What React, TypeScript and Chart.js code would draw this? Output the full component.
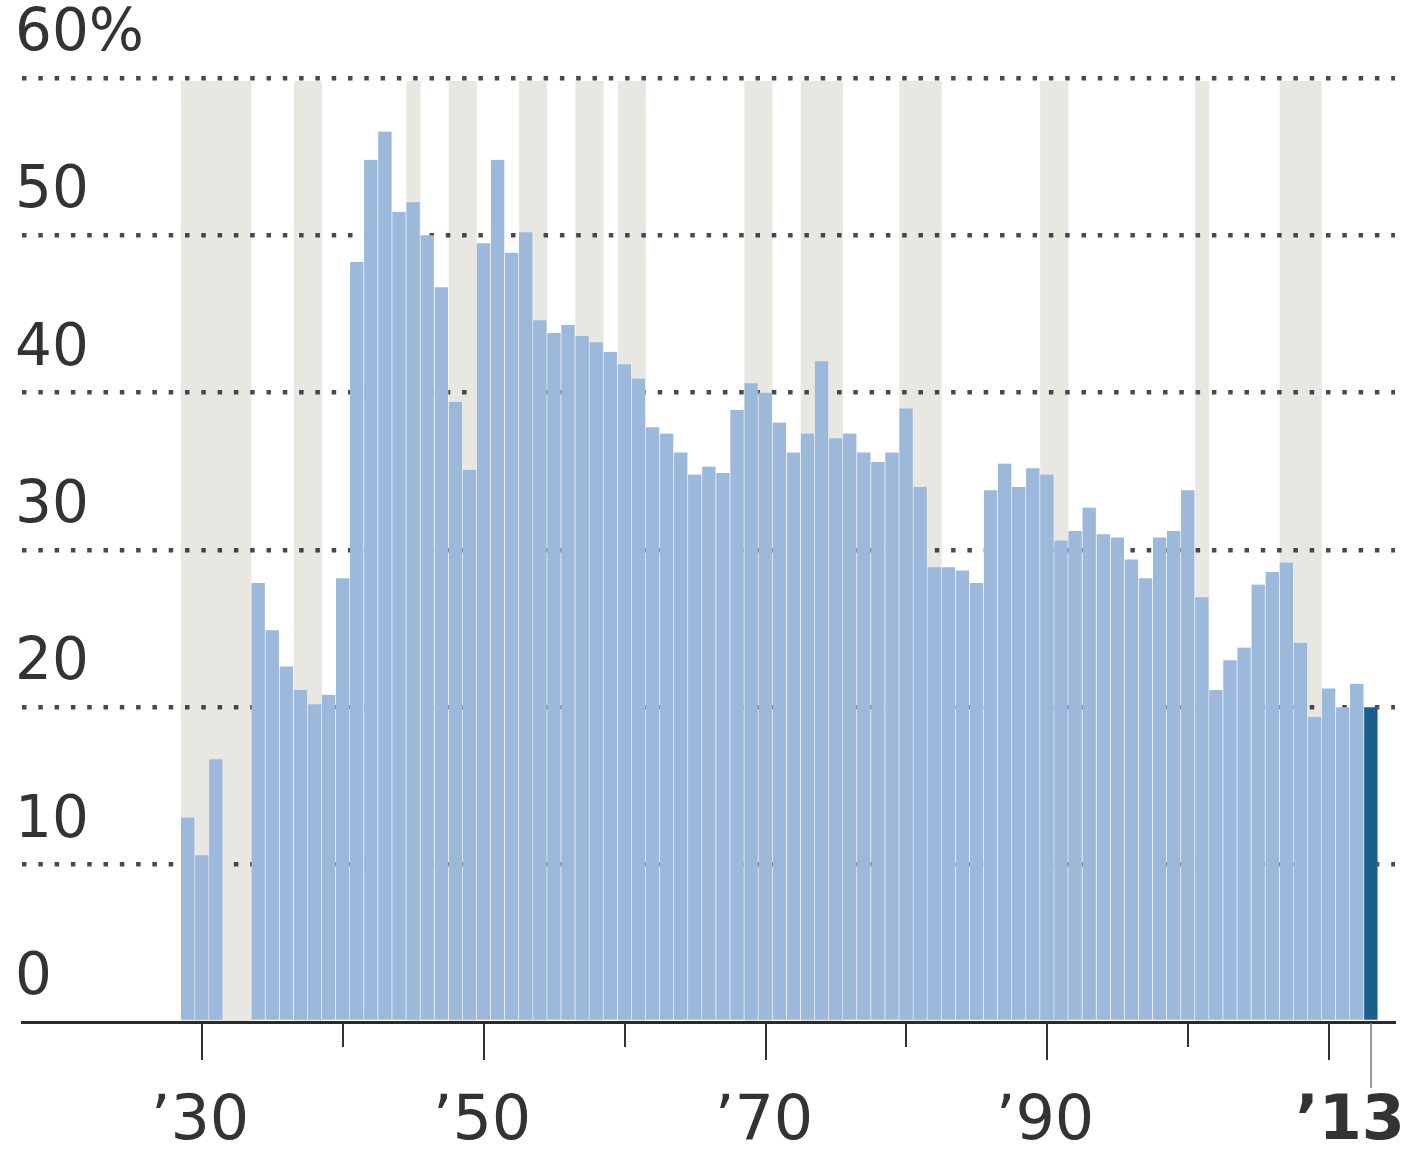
import React, { useEffect, useRef } from 'react';
import { Chart, registerables } from 'chart.js';

Chart.register(...registerables);

// ---- Data ----
const YEARS = [
  1929, 1930, 1931, 1932, 1933, 1934, 1935, 1936, 1937, 1938, 1939,
  1940, 1941, 1942, 1943, 1944, 1945, 1946, 1947, 1948, 1949,
  1950, 1951, 1952, 1953, 1954, 1955, 1956, 1957, 1958, 1959,
  1960, 1961, 1962, 1963, 1964, 1965, 1966, 1967, 1968, 1969,
  1970, 1971, 1972, 1973, 1974, 1975, 1976, 1977, 1978, 1979,
  1980, 1981, 1982, 1983, 1984, 1985, 1986, 1987, 1988, 1989,
  1990, 1991, 1992, 1993, 1994, 1995, 1996, 1997, 1998, 1999,
  2000, 2001, 2002, 2003, 2004, 2005, 2006, 2007, 2008, 2009,
  2010, 2011, 2012, 2013,
];

const VALUES: (number | null)[] = [
  13.0, 10.6, 16.7, null, null, 27.9, 24.9, 22.6, 21.1, 20.2, 20.8,
  28.2, 48.3, 54.8, 56.6, 51.5, 52.1, 50.0, 46.7, 39.4, 35.1,
  49.5, 54.8, 48.9, 50.2, 44.6, 43.8, 44.3, 43.6, 43.2, 42.6,
  41.8, 40.9, 37.8, 37.4, 36.2, 34.8, 35.3, 34.9, 38.9, 40.6,
  40.0, 38.1, 36.2, 37.4, 42.0, 37.1, 37.4, 36.2, 35.6, 36.2,
  39.0, 34.0, 28.9, 28.9, 28.7, 27.9, 33.8, 35.5, 34.0, 35.2,
  34.8, 30.6, 31.2, 32.7, 31.0, 30.8, 29.4, 28.2, 30.8, 31.2,
  33.8, 27.0, 21.1, 23.0, 23.8, 27.8, 28.6, 29.2, 24.1, 19.4,
  21.2, 20.0, 21.5, 20.0,
];

const HIGHLIGHT_YEAR = 2013;

const RECESSION_YEARS = [
  1929, 1930, 1931, 1932, 1933, 1937, 1938, 1945, 1948, 1949,
  1953, 1954, 1957, 1958, 1960, 1961, 1969, 1970, 1973, 1974, 1975,
  1980, 1981, 1982, 1990, 1991, 2001, 2007, 2008, 2009,
];

const Y_TICKS = [0, 10, 20, 30, 40, 50, 60];
const X_TICK_YEARS = [1930, 1940, 1950, 1960, 1970, 1980, 1990, 2000, 2010, 2013];
const X_TICK_LABELS = ['’30', '', '’50', '', '’70', '', '’90', '', '', '’13'];
const X_TICK_KINDS = ['major', 'minor', 'major', 'minor', 'major', 'minor', 'major', 'minor', 'major', 'current'];

// ---- Styles ----
const BAR_COLOR = '#9cb9dc';
const HIGHLIGHT_COLOR = '#1b5e8a';
const RECESSION_COLOR = '#e9e7e2';
const TEXT_COLOR = '#333333';
const FONT_FAMILY = '"DejaVu Sans", sans-serif';

const recessionPlugin = {
  id: 'recessionShading',
  beforeDraw(chart: any) {
    const { ctx, scales } = chart;
    const x = scales.x;
    const y = scales.y;
    const top = y.getPixelForValue(60) + 3;
    const bottom = y.getPixelForValue(0);
    const groups: [number, number][] = [];
    RECESSION_YEARS.forEach((yr) => {
      const last = groups[groups.length - 1];
      if (last && last[1] === yr - 1) last[1] = yr;
      else groups.push([yr, yr]);
    });
    ctx.save();
    ctx.fillStyle = RECESSION_COLOR;
    groups.forEach(([a, b]) => {
      const l = x.getPixelForValue(a - 0.5);
      const r = x.getPixelForValue(b + 0.5);
      ctx.fillRect(l, top, r - l, bottom - top);
    });
    ctx.restore();
  },
};

const xAxisPlugin = {
  id: 'xAxisTicks',
  afterDraw(chart: any) {
    const { ctx, scales, chartArea, width } = chart;
    const x = scales.x;
    const base = chartArea.bottom;
    ctx.save();
    X_TICK_YEARS.forEach((yr, i) => {
      const px = Math.round(x.getPixelForValue(yr));
      const kind = X_TICK_KINDS[i];
      let len = 38;
      ctx.strokeStyle = '#333333';
      ctx.lineWidth = 2;
      if (kind === 'minor') len = 25;
      if (kind === 'current') {
        len = 66;
        ctx.strokeStyle = '#777777';
        ctx.lineWidth = 1.5;
      }
      ctx.beginPath();
      ctx.moveTo(px, base + 1);
      ctx.lineTo(px, base + len);
      ctx.stroke();

      const label = X_TICK_LABELS[i];
      if (label) {
        ctx.fillStyle = TEXT_COLOR;
        ctx.textBaseline = 'middle';
        if (kind === 'current') {
          ctx.font = `bold 62px ${FONT_FAMILY}`;
          ctx.textAlign = 'right';
          ctx.fillText(label, width - 3, base + 101);
        } else {
          ctx.font = `62px ${FONT_FAMILY}`;
          ctx.textAlign = 'center';
          ctx.fillText(label, px - 2, base + 101);
        }
      }
    });
    ctx.restore();
  },
};

export default function App() {
  const canvasRef = useRef<HTMLCanvasElement | null>(null);

  useEffect(() => {
    if (!canvasRef.current) return;
    const chart = new Chart(canvasRef.current, {
      type: 'bar',
      data: {
        datasets: [
          {
            data: YEARS.map((yr, i) => ({ x: yr, y: VALUES[i] })) as any,
            backgroundColor: YEARS.map((yr) => (yr === HIGHLIGHT_YEAR ? HIGHLIGHT_COLOR : BAR_COLOR)),
            borderColor: 'rgba(255,255,255,0.3)',
            borderWidth: { left: 0, right: 1, top: 0, bottom: 0 } as any,
            barPercentage: 1,
            categoryPercentage: 1,
          },
        ],
      },
      options: {
        responsive: false,
        maintainAspectRatio: false,
        animation: false,
        devicePixelRatio: 1,
        layout: { padding: { left: 22, right: 13, top: 78, bottom: 132 } },
        plugins: {
          legend: { display: false },
          tooltip: { enabled: false },
        },
        scales: {
          x: {
            type: 'linear',
            min: 1917.21,
            max: 2014.69,
            offset: false,
            z: 1,
            grid: { display: false, drawTicks: false, offset: false },
            border: { display: true, color: '#2b2b2b', width: 3 },
            ticks: { display: false },
          },
          y: {
            type: 'linear',
            position: 'left',
            min: 0,
            max: 60,
            z: 1,
            afterFit: (s: any) => {
              s.width = 0;
            },
            afterBuildTicks: (s: any) => {
              s.ticks = Y_TICKS.map((v) => ({ value: v }));
            },
            border: { display: false, dash: [4.5, 11.8] },
            grid: {
              drawTicks: false,
              lineWidth: 4.5,
              color: (c: any) =>
                c.tick && c.tick.value === 0 ? 'rgba(0,0,0,0)' : 'rgba(32,32,42,0.82)',
            },
            ticks: {
              mirror: true,
              padding: -7,
              labelOffset: -43,
              color: TEXT_COLOR,
              font: { family: FONT_FAMILY, size: 58 },
              callback: (v: any) => (v === 60 ? '60%' : String(v)),
            },
          },
        },
      },
      plugins: [recessionPlugin, xAxisPlugin],
    });
    return () => chart.destroy();
  }, []);

  return (
    <div style={{ position: 'absolute', left: 0, top: 0, width: 1408, height: 1154, background: '#fff' }}>
      <canvas ref={canvasRef} width={1408} height={1154} />
    </div>
  );
}
